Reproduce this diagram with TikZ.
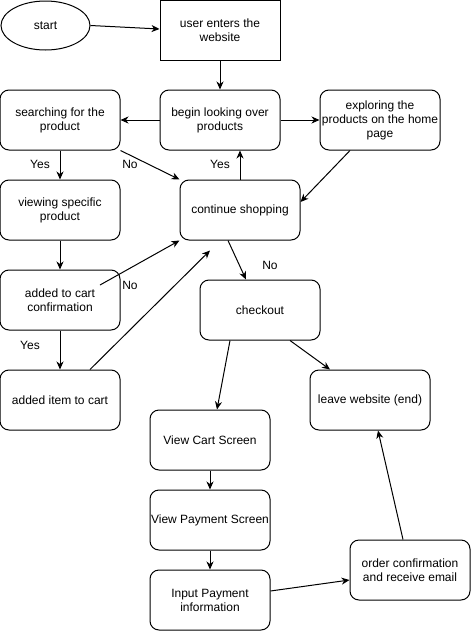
\documentclass[tikz,border=0pt]{standalone}
\usepackage{fontspec}
\setmainfont{Liberation Sans}
\usetikzlibrary{arrows.meta,shapes.geometric}
\begin{document}
\begin{tikzpicture}[x=1pt,y=-1pt,
  every node/.style={font=\fontsize{12}{14}\selectfont, align=center},
  box/.style={draw, line width=1pt, rounded corners=9pt, minimum width=120pt, minimum height=60pt, inner sep=1pt},
  sbox/.style={draw, line width=1pt, minimum width=120pt, minimum height=60pt, inner sep=1pt},
  lbl/.style={inner sep=0pt},
  arr/.style={line width=1pt, -{Stealth[length=8pt,width=7pt,inset=2.5pt]}}]
\useasboundingbox (0,0) rectangle (472,632);
\fill[white] (0,0) rectangle (472,632);
\node[draw, ellipse, line width=1pt, minimum width=89pt, minimum height=49pt, inner sep=0pt] (start) at (45.5,25.5) {start};
\node[sbox] (user) at (220,30) {user enters the\\website};
\node[box] (begin) at (220,120) {begin looking over\\products};
\node[box] (search) at (60,120) {searching for the\\product};
\node[box] (explore) at (380,120) {exploring the\\products on the home\\page};
\node[box] (view) at (60,210) {viewing specific\\product};
\node[box] (cont) at (240,210) {continue shopping};
\node[box] (conf) at (60,300) {added to cart\\confirmation};
\node[box] (item) at (60,400) {added item to cart};
\node[box] (checkout) at (260,310) {checkout};
\node[box] (leave) at (370,400) {leave website (end)};
\node[box] (cart) at (210,440) {View Cart Screen};
\node[box] (pay) at (210,520) {View Payment Screen};
\node[box] (input) at (210,600) {Input Payment\\information};
\node[box] (order) at (410,570) {order confirmation\\and receive email};

\node[lbl] (l1) at (40,164) {Yes};
\node[lbl] (l2) at (130,164) {No};
\node[lbl] (l3) at (220,164) {Yes};
\node[lbl] (l4) at (130,285) {No};
\node[lbl] (l5) at (30,345) {Yes};
\node[lbl] (l6) at (270,265) {No};

\draw[arr] (start.east) -- ([yshift=1pt]user.west);
\draw[arr] (user.south) -- (begin.north);
\draw[arr] (begin.west) -- (search.east);
\draw[arr] (begin.east) -- (explore.west);
\draw[arr] (search.south) -- (view.north);
\draw[arr] (search.south east) -- (cont.north west);
\draw[arr] (cont.north) -- ([xshift=20pt]begin.south);
\draw[arr] ([xshift=-30pt]explore.south) -- ([yshift=8pt]cont.east);
\draw[arr] (view.south) -- (conf.north);
\draw[arr] ([xshift=40pt,yshift=15pt]conf.center) -- (cont.south west);
\draw[arr] (conf.south) -- (item.north);
\draw[arr] ([xshift=30pt]item.north) -- ([xshift=-30pt,yshift=-10pt]cont.south);
\draw[arr] ([xshift=-12pt]cont.south) -- ([xshift=-14pt]checkout.north);
\draw[arr] ([xshift=-30pt]checkout.south) -- ([xshift=7pt]cart.north);
\draw[arr] ([xshift=30pt]checkout.south) -- ([xshift=-40pt]leave.north);
\draw[arr] (cart.south) -- (pay.north);
\draw[arr] (pay.south) -- (input.north);
\draw[arr] ([yshift=9pt]input.east) -- ([yshift=-10pt]order.west);
\draw[arr] ([xshift=-7pt]order.north) -- ([xshift=8pt]leave.south);
\end{tikzpicture}
\end{document}
